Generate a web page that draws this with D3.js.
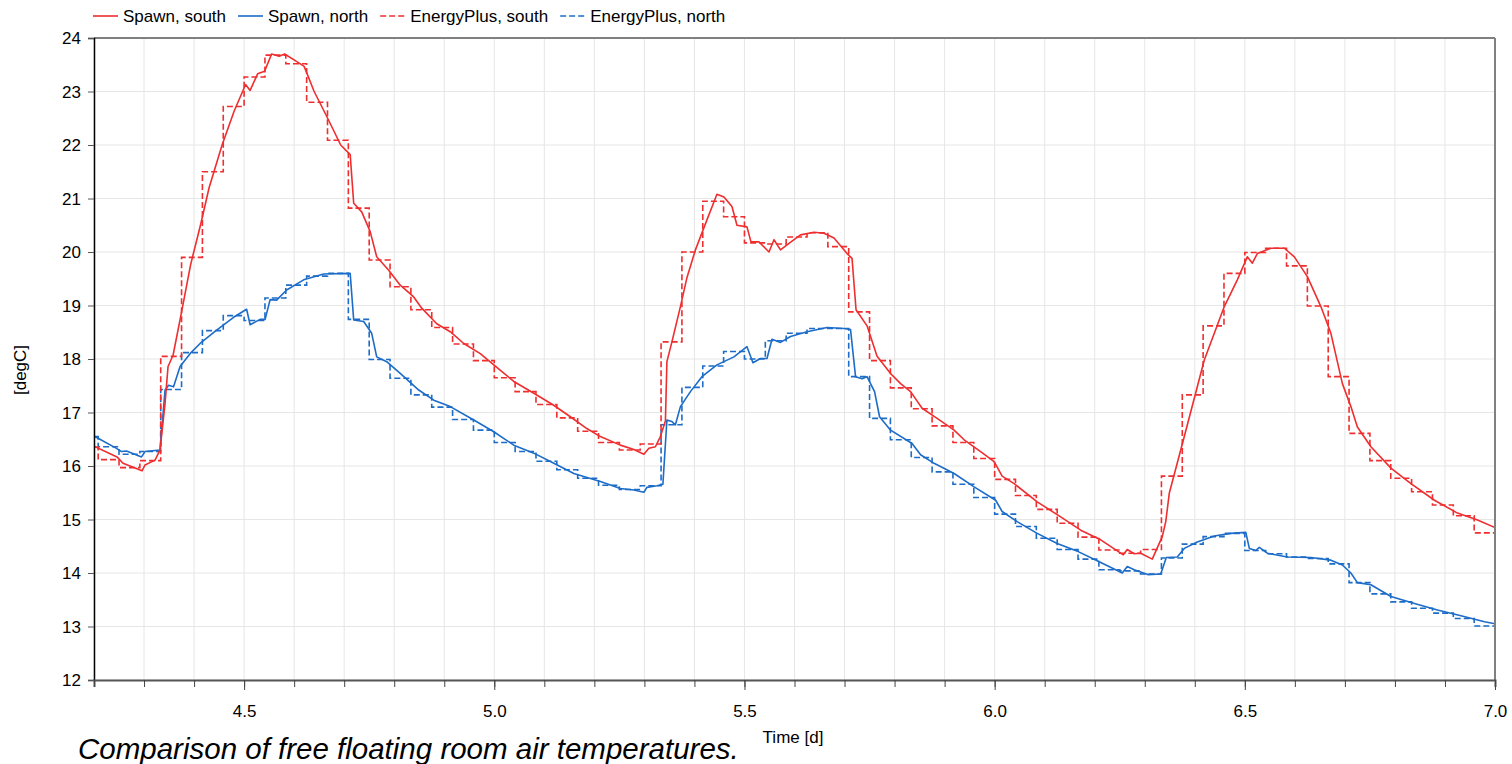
<!DOCTYPE html>
<html><head><meta charset="utf-8">
<script src="https://cdn.jsdelivr.net/npm/d3@7"></script>
<style>html,body{margin:0;padding:0;background:#fff;overflow:hidden}</style>
</head><body><svg id="c" width="1512" height="764"></svg>
<script>
// ---------- DATA ----------
const seriesNames = ["Spawn, south", "Spawn, north", "EnergyPlus, south", "EnergyPlus, north"];
const xTickLabels = ["4.5", "5.0", "5.5", "6.0", "6.5", "7.0"];
const yTickLabels = ["12","13","14","15","16","17","18","19","20","21","22","23","24"];

// Spawn, south (time [d], temperature [degC])
const spawnSouthTime = [4.200,4.246,4.258,4.296,4.302,4.322,4.332,4.342,4.348,4.358,4.374,4.393,4.413,4.430,4.456,4.480,4.503,4.512,4.527,4.541,4.555,4.570,4.581,4.607,4.620,4.640,4.667,4.693,4.712,4.719,4.735,4.752,4.765,4.789,4.812,4.839,4.855,4.885,4.912,4.939,4.972,4.999,5.039,5.079,5.118,5.152,5.185,5.212,5.252,5.279,5.299,5.309,5.322,5.332,5.342,5.345,5.355,5.372,5.385,5.402,5.425,5.445,5.459,5.475,5.485,5.505,5.513,5.529,5.549,5.559,5.572,5.589,5.612,5.639,5.659,5.679,5.705,5.715,5.723,5.745,5.765,5.792,5.812,5.832,5.855,5.885,5.919,5.939,5.972,5.999,6.015,6.039,6.085,6.132,6.172,6.212,6.257,6.265,6.279,6.292,6.315,6.335,6.342,6.349,6.379,6.419,6.459,6.485,6.505,6.515,6.525,6.552,6.579,6.599,6.625,6.652,6.672,6.695,6.712,6.725,6.752,6.792,6.832,6.879,6.925,6.965,7.000];
const spawnSouthTemp = [16.37,16.17,16.05,15.91,16.02,16.11,16.30,17.17,17.86,18.07,18.83,19.76,20.51,21.20,22.00,22.63,23.13,23.02,23.33,23.38,23.70,23.66,23.70,23.55,23.47,23.00,22.50,22.00,21.82,20.91,20.75,20.38,19.91,19.66,19.38,19.16,18.95,18.66,18.51,18.29,18.10,17.89,17.58,17.36,17.14,16.92,16.70,16.55,16.39,16.31,16.22,16.33,16.36,16.55,16.84,17.95,18.32,18.98,19.52,20.04,20.60,21.08,21.03,20.85,20.50,20.47,20.19,20.19,20.00,20.23,20.04,20.16,20.32,20.37,20.35,20.26,19.97,19.88,18.92,18.62,18.05,17.73,17.54,17.39,17.08,16.89,16.67,16.49,16.27,16.08,15.81,15.67,15.33,15.05,14.80,14.62,14.34,14.44,14.36,14.37,14.26,14.68,14.96,15.49,16.55,17.98,18.98,19.48,19.91,19.79,19.97,20.07,20.07,19.91,19.54,18.98,18.48,17.54,17.11,16.73,16.36,15.96,15.67,15.36,15.12,14.99,14.85];

// Spawn, north
const spawnNorthTime = [4.200,4.245,4.255,4.265,4.295,4.302,4.332,4.342,4.349,4.359,4.372,4.392,4.412,4.445,4.479,4.505,4.512,4.532,4.542,4.552,4.565,4.585,4.619,4.659,4.712,4.719,4.739,4.755,4.765,4.785,4.812,4.849,4.879,4.912,4.959,4.999,5.039,5.079,5.119,5.159,5.212,5.252,5.279,5.299,5.305,5.325,5.337,5.345,5.355,5.362,5.372,5.392,5.415,5.445,5.479,5.505,5.517,5.532,5.545,5.555,5.572,5.592,5.625,5.665,5.699,5.712,5.722,5.735,5.745,5.760,5.770,5.792,5.835,5.852,5.879,5.919,5.959,6.002,6.015,6.045,6.085,6.125,6.167,6.209,6.255,6.265,6.279,6.306,6.332,6.343,6.365,6.379,6.405,6.439,6.472,6.502,6.509,6.522,6.529,6.545,6.585,6.632,6.672,6.695,6.712,6.725,6.752,6.792,6.839,6.885,6.932,6.979,7.000];
const spawnNorthTemp = [16.56,16.33,16.27,16.28,16.17,16.27,16.30,17.42,17.51,17.48,17.86,18.10,18.29,18.54,18.78,18.93,18.64,18.74,18.74,19.11,19.10,19.29,19.48,19.59,19.60,18.73,18.70,18.48,18.04,17.95,17.73,17.42,17.23,17.11,16.86,16.64,16.39,16.24,16.05,15.86,15.71,15.58,15.55,15.51,15.60,15.63,15.66,16.86,16.83,16.77,17.11,17.39,17.67,17.89,18.04,18.23,17.93,18.01,18.01,18.37,18.31,18.42,18.51,18.59,18.57,18.55,17.67,17.63,17.67,17.39,16.92,16.67,16.42,16.21,16.05,15.86,15.61,15.36,15.15,14.96,14.74,14.55,14.40,14.21,14.00,14.12,14.06,13.97,13.98,14.29,14.30,14.46,14.58,14.69,14.74,14.76,14.46,14.42,14.48,14.37,14.30,14.29,14.24,14.15,14.00,13.82,13.78,13.56,13.43,13.31,13.20,13.09,13.05];

// EnergyPlus hourly results (hour of year start, value held for the hour)
const epHour = [100,101,102,103,104,105,106,107,108,109,110,111,112,113,114,115,116,117,118,119,120,121,122,123,124,125,126,127,128,129,130,131,132,133,134,135,136,137,138,139,140,141,142,143,144,145,146,147,148,149,150,151,152,153,154,155,156,157,158,159,160,161,162,163,164,165,166,167,168];
const epSouthTemp = [16.35,16.12,15.97,16.10,18.05,19.90,21.50,22.72,23.27,23.68,23.52,22.80,22.09,20.82,19.85,19.35,18.92,18.59,18.28,17.97,17.65,17.39,17.15,16.90,16.65,16.44,16.30,16.41,18.32,20.00,20.95,20.66,20.17,20.15,20.28,20.36,20.10,18.88,17.97,17.46,17.07,16.75,16.44,16.14,15.75,15.45,15.19,14.93,14.67,14.43,14.37,14.44,15.81,17.33,18.62,19.60,19.99,20.07,19.74,18.99,17.67,16.61,16.10,15.77,15.52,15.27,15.07,14.75,14.75];
const epNorthTemp = [16.55,16.36,16.22,16.27,17.43,18.12,18.53,18.81,18.72,19.14,19.38,19.55,19.60,18.74,17.99,17.64,17.33,17.10,16.87,16.67,16.44,16.27,16.09,15.93,15.77,15.64,15.56,15.63,16.77,17.47,17.87,18.14,18.00,18.34,18.48,18.57,18.57,17.67,16.89,16.49,16.16,15.89,15.66,15.41,15.10,14.87,14.65,14.44,14.26,14.06,14.04,13.98,14.28,14.54,14.68,14.74,14.42,14.36,14.30,14.27,14.17,13.82,13.61,13.46,13.34,13.25,13.15,13.01,13.01];

// ---------- CHART ----------
const RED = "rgb(238,46,47)", BLUE = "rgb(28,108,200)";
const FONT = "'Liberation Sans', Arial, Helvetica, sans-serif";
const svg = d3.select("#c");
const m = {l:94, r:1495, t:38, b:680};
const x = d3.scaleLinear().domain([4.2, 7.0]).range([m.l, m.r]);
const y = d3.scaleLinear().domain([12, 24]).range([m.b, m.t]);

svg.append("rect").attr("width",1512).attr("height",764).attr("fill","#fff");

// grid
const gGrid = svg.append("g");
gGrid.selectAll("line.v").data(x.ticks(28)).join("line")
  .attr("x1", d=>x(d)).attr("x2", d=>x(d)).attr("y1", m.t).attr("y2", m.b)
  .attr("stroke", "#e6e6e6").attr("stroke-width", 1);
gGrid.selectAll("line.h").data(yTickLabels.map(Number)).join("line")
  .attr("y1", d=>y(d)).attr("y2", d=>y(d)).attr("x1", m.l).attr("x2", m.r)
  .attr("stroke", "#e6e6e6").attr("stroke-width", 1);

// clip
svg.append("clipPath").attr("id","clip").append("rect")
  .attr("x", m.l).attr("y", m.t).attr("width", m.r-m.l).attr("height", m.b-m.t);

const lineGen = d3.line().x(d=>x(d[0])).y(d=>y(d[1]));
const stepGen = d3.line().x(d=>x(d[0])).y(d=>y(d[1])).curve(d3.curveStepAfter);

const gLines = svg.append("g").attr("clip-path","url(#clip)");
const epS = epHour.map((h,i)=>[h/24, epSouthTemp[i]]);
const epN = epHour.map((h,i)=>[h/24, epNorthTemp[i]]);
const spS = spawnSouthTime.map((t,i)=>[t, spawnSouthTemp[i]]);
const spN = spawnNorthTime.map((t,i)=>[t, spawnNorthTemp[i]]);

gLines.append("path").attr("d", stepGen(epN)).attr("fill","none").attr("stroke",BLUE)
  .attr("stroke-width",1.6).attr("stroke-dasharray","6,3");
gLines.append("path").attr("d", stepGen(epS)).attr("fill","none").attr("stroke",RED)
  .attr("stroke-width",1.6).attr("stroke-dasharray","6,3");
gLines.append("path").attr("d", lineGen(spN)).attr("fill","none").attr("stroke",BLUE)
  .attr("stroke-width",1.6).attr("stroke-linejoin","round");
gLines.append("path").attr("d", lineGen(spS)).attr("fill","none").attr("stroke",RED)
  .attr("stroke-width",1.6).attr("stroke-linejoin","round");

// frame top/right
svg.append("line").attr("x1", m.l).attr("x2", m.r).attr("y1", m.t).attr("y2", m.t)
  .attr("stroke", "#808080").attr("stroke-width", 2);
svg.append("line").attr("x1", m.r).attr("x2", m.r).attr("y1", m.t).attr("y2", m.b)
  .attr("stroke", "#808080").attr("stroke-width", 2);

// axes
const yAxis = d3.axisLeft(y).tickValues(yTickLabels.map(Number)).tickSize(6).tickFormat(d=>String(d));
const gy = svg.append("g").attr("transform", `translate(${m.l},0)`).call(yAxis);
gy.select(".domain").attr("stroke","#000").attr("stroke-width",1.5);
gy.selectAll(".tick line").attr("stroke","#555");
gy.selectAll(".tick text").attr("x",-13).attr("dy","0.35em")
  .style("font-family",FONT).style("font-size","17px").attr("fill","#000");

const xMinor = d3.axisBottom(x).tickValues(x.ticks(28)).tickSize(7).tickFormat("");
const gxm = svg.append("g").attr("transform", `translate(0,${m.b})`).call(xMinor);
gxm.selectAll(".tick line").attr("stroke","#444");
gxm.select(".domain").attr("stroke","#555").attr("stroke-width",2);
const xMajor = d3.axisBottom(x).tickValues(xTickLabels.map(Number)).tickSize(10)
  .tickFormat((d,i)=>xTickLabels[i]);
const gx = svg.append("g").attr("transform", `translate(0,${m.b})`).call(xMajor);
gx.select(".domain").remove();
gx.selectAll(".tick line").attr("stroke","#444");
gx.selectAll(".tick text").attr("y",37).attr("dy","0")
  .style("font-family",FONT).style("font-size","17px").attr("fill","#000");

// axis titles
svg.append("text").attr("x", 793).attr("y", 743).attr("text-anchor","middle")
  .style("font-family",FONT).style("font-size","17px").text("Time [d]");
svg.append("text").attr("transform","translate(26,370) rotate(-90)").attr("text-anchor","middle")
  .style("font-family",FONT).style("font-size","17px").text("[degC]");

// legend
const legendStyles = [
  {c:RED, dash:null}, {c:BLUE, dash:null}, {c:RED, dash:"6,3"}, {c:BLUE, dash:"6,3"}
];
let lx = 93;
const gLeg = svg.append("g");
seriesNames.forEach((name,i)=>{
  const s = legendStyles[i];
  gLeg.append("line").attr("x1",lx).attr("x2",lx+25).attr("y1",16).attr("y2",16)
    .attr("stroke",s.c).attr("stroke-width",1.6).attr("stroke-dasharray",s.dash);
  const t = gLeg.append("text").attr("x",lx+30).attr("y",22)
    .style("font-family",FONT).style("font-size","17px").text(name);
  lx += 30 + t.node().getComputedTextLength() + 12;
});

// caption
svg.append("text").attr("x",78).attr("y",759)
  .style("font-family",FONT).style("font-size","29.5px").style("font-style","italic")
  .text("Comparison of free floating room air temperatures.");
</script></body></html>
